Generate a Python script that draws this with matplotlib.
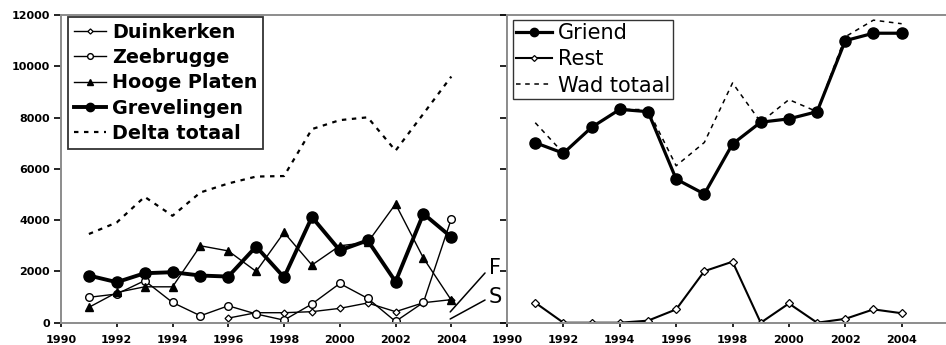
import matplotlib
matplotlib.use("Agg")
import matplotlib.pyplot as plt

# aantallen per jaar
years = list(range(1991, 2005))
duinkerken_years = list(range(1996, 2005))
duinkerken = [180, 390, 390, 430, 560, 770, 430, 780, 900]
zeebrugge = [990, 1120, 1640, 790, 270, 660, 340, 100, 730, 1530, 950, 50, 790, 4050]
hooge_platen = [600, 1180, 1400, 1400, 3000, 2800, 2000, 3520, 2250, 3000, 3130, 4630, 2520, 880]
grevelingen = [1840, 1580, 1930, 1970, 1840, 1800, 2970, 1770, 4120, 2820, 3210, 1600, 4250, 3340]
delta_totaal = [3460, 3910, 4910, 4170, 5080, 5430, 5700, 5720, 7550, 7900, 8010, 6710, 8150, 9600]

griend = [7020, 6610, 7620, 8320, 8230, 5600, 5020, 6970, 7820, 7950, 8230, 11000, 11290, 11290]
rest = [780, 0, 0, 0, 80, 520, 2010, 2380, 0, 750, 0, 150, 520, 370]
wad_totaal = [7800, 6610, 7620, 8320, 8310, 6120, 7030, 9350, 7820, 8700, 8230, 11150, 11800, 11660]

xticks = list(range(1990, 2005, 2))
yticks = list(range(0, 12001, 2000))

plt.rcParams['font.family'] = 'DejaVu Sans'

fig = plt.figure(figsize=(9.46, 3.45), dpi=100)
ax1 = fig.add_axes([0.0645, 0.0646, 0.4715, 0.8919])
ax2 = fig.add_axes([0.536, 0.0646, 0.4767, 0.8919])

ax1.plot(duinkerken_years, duinkerken, '-', color='k', lw=1.0, marker='D', ms=3.5,
         mfc='white', mec='k', mew=0.9, label='Duinkerken')
ax1.plot(years, zeebrugge, '-', color='k', lw=1.0, marker='o', ms=5.5,
         mfc='white', mec='k', mew=1.0, label='Zeebrugge')
ax1.plot(years, hooge_platen, '-', color='k', lw=1.0, marker='^', ms=6,
         mfc='k', mec='k', label='Hooge Platen')
ax1.plot(years, grevelingen, '-', color='k', lw=2.8, marker='o', ms=8,
         mfc='k', mec='k', label='Grevelingen')
ax1.plot(years, delta_totaal, color='k', lw=1.6, dashes=(2, 2.5), label='Delta totaal')

ax2.plot(years, griend, '-', color='k', lw=2.3, marker='o', ms=8,
         mfc='k', mec='k', label='Griend')
ax2.plot(years, rest, '-', color='k', lw=1.5, marker='D', ms=4,
         mfc='white', mec='k', mew=0.9, label='Rest')
ax2.plot(years, wad_totaal, color='k', lw=1.1, dashes=(3, 3), label='Wad totaal')

# F en S labels met verbindingslijn
for lab, p0, p1, ty in [('F', (2003.96, 420), (2005.21, 1940), 2133),
                        ('S', (2003.96, 145), (2005.21, 885), 1002)]:
    ax1.annotate('', xy=p0, xytext=p1,
                 arrowprops=dict(arrowstyle='-', color='k', lw=1.1, shrinkA=0, shrinkB=0))
    ax1.text(2005.57, ty, lab, fontsize=15, ha='center', va='center')

for ax in (ax1, ax2):
    ax.set_xlim(1990, 2006)
    ax.set_ylim(0, 12000)
    ax.set_xticks(xticks)
    ax.set_yticks(yticks)
    for s in ax.spines.values():
        s.set_color('#8c8c8c')
        s.set_linewidth(1.4)
    ax.tick_params(axis='y', direction='out', length=5, width=1.2, color='k', pad=3)
    ax.tick_params(axis='x', direction='out', length=3, width=1.2, color='k', pad=6)
    for lab in ax.get_xticklabels() + ax.get_yticklabels():
        lab.set_fontweight('bold')
        lab.set_fontsize(8)

ax2.set_yticklabels([])

leg1 = ax1.legend(loc='upper left', bbox_to_anchor=(0.0157, 0.9935), borderaxespad=0,
                  prop={'weight': 'bold', 'size': 13.8}, handlelength=1.7,
                  handletextpad=0.3, labelspacing=0.33, borderpad=0.3,
                  fancybox=False, numpoints=1, markerscale=0.75)
leg1.get_frame().set_edgecolor('k')
leg1.get_frame().set_linewidth(1.3)

leg2 = ax2.legend(loc='upper left', bbox_to_anchor=(0.0133, 0.984), borderaxespad=0,
                  prop={'size': 15}, handlelength=1.7,
                  handletextpad=0.3, labelspacing=0.3, borderpad=0.15,
                  fancybox=False, numpoints=1, markerscale=0.75)
leg2.get_frame().set_edgecolor('k')
leg2.get_frame().set_linewidth(1.0)

fig.savefig('out.png', dpi=100)
